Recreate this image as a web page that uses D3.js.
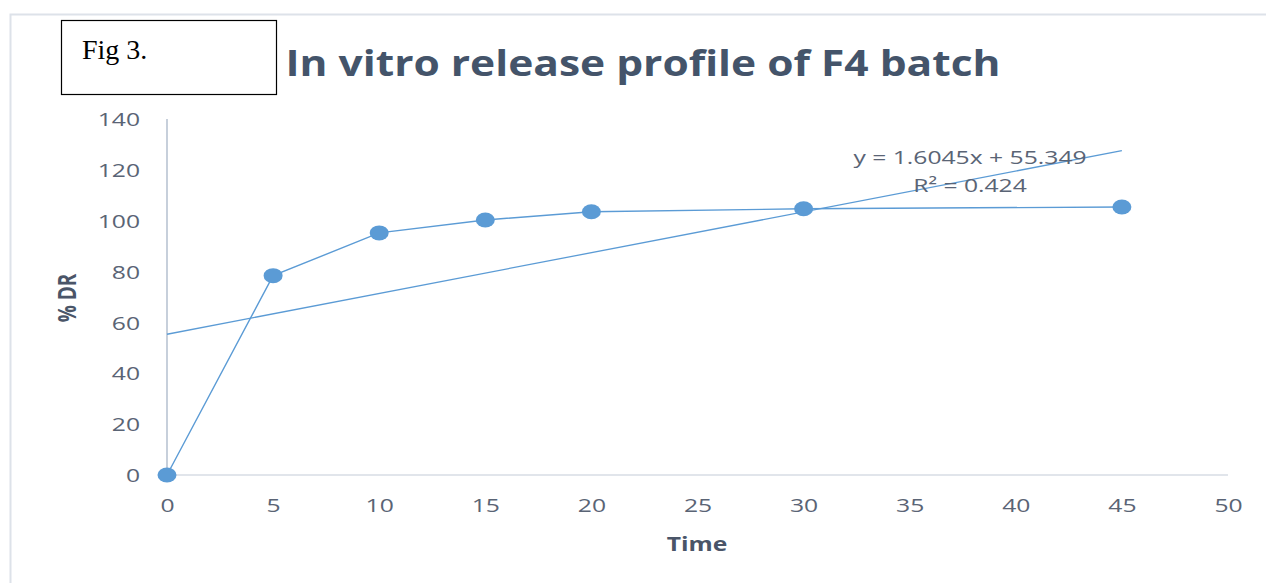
<!DOCTYPE html>
<html><head><meta charset="utf-8">
<script src="https://cdn.jsdelivr.net/npm/d3@7"></script>
<style>body{margin:0;background:#fff;}svg{display:block;}</style>
</head><body>
<script>
const times = [0, 5, 10, 15, 20, 30, 45];
const releasePct = [0, 78.4, 95.2, 100.3, 103.5, 104.7, 105.4];
const xTicks = [0, 5, 10, 15, 20, 25, 30, 35, 40, 45, 50];
const yTicks = [0, 20, 40, 60, 80, 100, 120, 140];
const trendSlope = 1.6045, trendIntercept = 55.349;
const trendRange = [0, 45];
const titleText = "In vitro release profile of F4 batch";
const eqLines = ["y = 1.6045x + 55.349", "R² = 0.424"];

const W = 1266, H = 583;
const SX = 1.3; // horizontal stretch of the original picture
const svg = d3.select("body").append("svg").attr("width", W).attr("height", H);
const x = d3.scaleLinear().domain([0, 50]).range([167, 1228]);
const y = d3.scaleLinear().domain([0, 140]).range([475, 119]);
const txt = "#5a6475", blue = "#5b9bd5";

// outer chart frame (partial)
svg.append("path").attr("d", `M10.5,${H} V14.5 H${W}`).attr("fill","none").attr("stroke","#dde2e9").attr("stroke-width",2);

// title
svg.append("text").attr("x", 643).attr("y", 76).attr("text-anchor","middle")
  .attr("font-family","'Open Sans'").attr("font-weight","bold").attr("font-size",36)
  .attr("fill","#44546a").attr("textLength",715).attr("lengthAdjust","spacingAndGlyphs").text(titleText);

// Fig 3 box
svg.append("rect").attr("x",61.5).attr("y",20.5).attr("width",215).attr("height",74)
  .attr("fill","#fff").attr("stroke","#000").attr("stroke-width",1.2);
svg.append("text").attr("x",82).attr("y",59).attr("font-family","'Liberation Serif'").attr("font-size",28)
  .attr("fill","#000").text("Fig 3.");

// axes lines
svg.append("line").attr("x1",x(0)).attr("x2",x(50)).attr("y1",y(0)).attr("y2",y(0))
  .attr("stroke","#e1e5eb").attr("stroke-width",2);
svg.append("line").attr("x1",x(0)).attr("x2",x(0)).attr("y1",y(0)).attr("y2",y(140))
  .attr("stroke","#a9b6c8").attr("stroke-width",1.3);

// tick labels
const xAxis = d3.axisBottom(x).tickValues(xTicks).tickSize(0).tickPadding(0);
const gx = svg.append("g").attr("transform",`translate(0,${y(0)+24})`).call(xAxis);
gx.select(".domain").remove();
gx.selectAll("text").attr("font-family","'Open Sans'").attr("font-size",19).attr("fill",txt)
  .attr("dy","0.71em").attr("transform",`scale(${SX},1)`);

const yAxis = d3.axisLeft(y).tickValues(yTicks).tickSize(0).tickPadding(0);
const gy = svg.append("g").attr("transform",`translate(140,0)`).call(yAxis);
gy.select(".domain").remove();
gy.selectAll("text").attr("font-family","'Open Sans'").attr("font-size",19).attr("fill",txt)
  .attr("dy","0.35em").attr("transform",`scale(${SX},1)`);

// axis titles
svg.append("text").attr("transform",`translate(76,298) scale(${SX},1) rotate(-90)`).attr("text-anchor","middle")
  .attr("font-family","'Open Sans'").attr("font-weight","bold").attr("font-size",19).attr("fill","#4a5568").text("% DR");
svg.append("text").attr("transform",`translate(697,551) scale(${SX},1)`).attr("text-anchor","middle")
  .attr("font-family","'Open Sans'").attr("font-weight","bold").attr("font-size",19).attr("fill","#4a5568").text("Time");

// data
const data = times.map((t,i)=>({t, v: releasePct[i]}));
svg.append("path").datum(data).attr("fill","none").attr("stroke",blue).attr("stroke-width",1.4)
  .attr("d", d3.line().x(d=>x(d.t)).y(d=>y(d.v)));

// trendline
const trend = trendRange.map(t=>({t, v: trendSlope*t + trendIntercept}));
svg.append("path").datum(trend).attr("fill","none").attr("stroke",blue).attr("stroke-width",1.3)
  .attr("d", d3.line().x(d=>x(d.t)).y(d=>y(d.v)));

// markers
svg.selectAll("ellipse.pt").data(data).join("ellipse").attr("class","pt")
  .attr("cx",d=>x(d.t)).attr("cy",d=>y(d.v)).attr("rx",9.5).attr("ry",7.5).attr("fill",blue);

// equation
svg.selectAll("text.eq").data(eqLines).join("text").attr("class","eq")
  .attr("transform",(d,i)=>`translate(970,${164+i*28}) scale(${SX},1)`).attr("text-anchor","middle")
  .attr("font-family","'Open Sans'").attr("font-size",19).attr("fill",txt).text(d=>d);
</script>
</body></html>
